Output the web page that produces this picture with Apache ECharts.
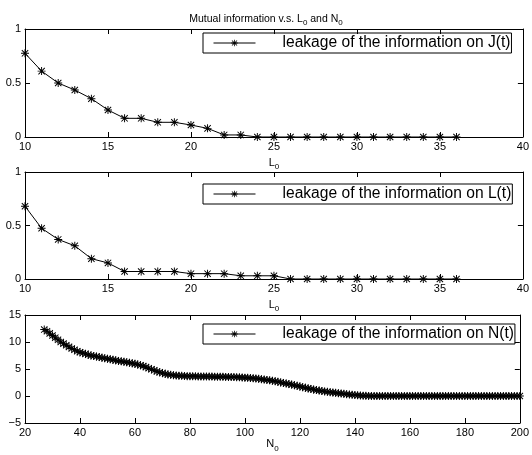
<!DOCTYPE html>
<html>
<head>
<meta charset="utf-8">
<script src="https://cdn.jsdelivr.net/npm/echarts@6/dist/echarts.min.js"></script>
<style>
html,body{margin:0;padding:0;background:#fff;}
#c{width:532px;height:455px;}
</style>
</head>
<body>
<div id="c"></div>
<script>
// ---- data ----
var L0 = [10,11,12,13,14,15,16,17,18,19,20,21,22,23,24,25,26,27,28,29,30,31,32,33,34,35,36];
var leakJ = [0.775,0.61,0.50,0.435,0.355,0.25,0.173,0.173,0.136,0.136,0.111,0.08,0.019,0.019,0,0,0,0,0,0,0,0,0,0,0,0,0];
var leakL = [0.68,0.474,0.37,0.31,0.19,0.15,0.07,0.07,0.07,0.07,0.05,0.05,0.05,0.03,0.03,0.03,0,0,0,0,0,0,0,0,0,0,0];
var N0start = 27, N0end = 200;
var leakN = [
 12.3,12.0,11.6,11.2,10.8,10.4,10.0,9.7,9.4,9.1,
 8.8,8.55,8.3,8.1,7.95,7.8,7.65,7.5,7.4,7.3,
 7.2,7.1,7.0,6.9,6.8,6.7,6.6,6.5,6.45,6.35,
 6.25,6.15,6.05,5.95,5.85,5.7,5.55,5.35,5.15,4.95,
 4.75,4.55,4.4,4.25,4.1,4.0,3.92,3.85,3.8,3.76,
 3.73,3.7,3.68,3.66,3.65,3.64,3.63,3.62,3.61,3.6,
 3.6,3.59,3.58,3.57,3.56,3.55,3.54,3.53,3.52,3.5,
 3.48,3.46,3.43,3.4,3.36,3.32,3.28,3.23,3.18,3.12,
 3.05,2.98,2.9,2.82,2.72,2.62,2.52,2.42,2.32,2.22,
 2.11,2.0,1.88,1.76,1.64,1.52,1.41,1.3,1.19,1.09,
 1.0,0.92,0.85,0.78,0.71,0.65,0.58,0.52,0.46,0.4,
 0.34,0.28,0.22,0.17,0.12,0.08,0.05,0.03,0.02,0.01,
 0,0,0,0,0,0,0,0,0,0,
 0,0,0,0,0,0,0,0,0,0,
 0,0,0,0,0,0,0,0,0,0,
 0,0,0,0,0,0,0,0,0,0,
 0,0,0,0,0,0,0,0,0,0,
 0,0,0,0
];
var yTicks12 = [0, 0.5, 1];
var yTicks3 = [-5, 0, 5, 10, 15];
var seriesNames = ['leakage of the information on J(t)','leakage of the information on L(t)','leakage of the information on N(t)'];
var titleText = 'Mutual information v.s.';

// ---- build ----
function pairs(xs, ys){ var out=[]; for(var i=0;i<ys.length;i++){ out.push([xs[i], ys[i]]); } return out; }
var N0 = []; for (var n=N0start; n<=N0end; n++) N0.push(n);

var FONT = 'Liberation Sans';
var star = 'path://M8.8 0L11.2 0L11.2 20L8.8 20Z M0 8.8L20 8.8L20 11.2L0 11.2Z M1.2 2.9L2.9 1.2L18.8 17.1L17.1 18.8Z M17.1 1.2L18.8 2.9L2.9 18.8L1.2 17.1Z';
var grids = [
  {left:25, right:9, top:29, height:108},
  {left:25, right:9, top:172, height:107},
  {left:25, right:9, top:315, height:108}
];
var xr = [[10,40,5],[10,40,5],[20,200,20]];
var yr = [[yTicks12[0], yTicks12[2], 0.5],[yTicks12[0], yTicks12[2], 0.5],[yTicks3[0], yTicks3[4], 5]];
var xNames = ['{a|L}{b|0}','{a|L}{b|0}','{a|N}{b|0}'];
var nameGaps = [18,18,13];
var xAxes=[], yAxes=[];
var rich = {a:{fontFamily:FONT,fontSize:11,color:'#000'}, b:{fontFamily:FONT,fontSize:8,color:'#000',padding:[8,0,0,0]}};
for (var g=0; g<3; g++){
  var line = {show:true, onZero:false, lineStyle:{color:'#000', width:1}};
  var tick = {show:true, inside:true, length:5, lineStyle:{color:'#000', width:1}};
  xAxes.push({type:'value', gridIndex:g, position:'bottom', min:xr[g][0], max:xr[g][1], interval:xr[g][2],
    axisLine:line, axisTick:tick, splitLine:{show:false},
    axisLabel:{color:'#000', fontFamily:FONT, fontSize:11, margin:4},
    name:xNames[g], nameLocation:'middle', nameGap:nameGaps[g], nameTextStyle:{rich:rich, verticalAlign:'top'}});
  xAxes.push({type:'value', gridIndex:g, position:'top', min:xr[g][0], max:xr[g][1], interval:xr[g][2],
    axisLine:line, axisTick:tick, splitLine:{show:false}, axisLabel:{show:false}});
  yAxes.push({type:'value', gridIndex:g, position:'left', min:yr[g][0], max:yr[g][1], interval:yr[g][2],
    axisLine:line, axisTick:tick, splitLine:{show:false},
    axisLabel:{color:'#000', fontFamily:FONT, fontSize:11, margin:4, formatter:function(v){ return String(v).replace('-', '\u2212'); }}});
  yAxes.push({type:'value', gridIndex:g, position:'right', min:yr[g][0], max:yr[g][1], interval:yr[g][2],
    axisLine:line, axisTick:tick, splitLine:{show:false}, axisLabel:{show:false}});
}
var datas = [pairs(L0, leakJ), pairs(L0, leakL), pairs(N0, leakN)];
var symSizes = [8, 8, 8];
var series = [];
for (var s=0; s<3; s++){
  series.push({name:seriesNames[s], type:'line', xAxisIndex:s*2, yAxisIndex:s*2, data:datas[s],
    symbol:star, symbolSize:symSizes[s], showAllSymbol:true, animation:false, clip:false,
    lineStyle:{color:'#000', width:1}, itemStyle:{color:'#000'}});
}
var legTops = [33, 184, 324];
var legends = [];
for (var k=0; k<3; k++){
  legends.push({data:[seriesNames[k]], left:203, top:legTops[k], orient:'horizontal',
    borderColor:'#000', borderWidth:1, padding:[2,1,2,10], itemWidth:42, itemHeight:8,
    lineStyle:{width:1, color:'#000'}, itemStyle:{color:'#000'},
    textStyle:{color:'#000', fontFamily:FONT, fontSize:15.6, padding:[0,0,0,22]}, selectedMode:false});
}
var chart = echarts.init(document.getElementById('c'), null, {renderer:'canvas'});
chart.setOption({
  animation:false,
  backgroundColor:'#fff',
  title:{text:'{t|'+titleText+' L}{s|0}{t| and N}{s|0}', left:'center', top:6,
    textStyle:{fontWeight:'normal', rich:{t:{fontFamily:FONT,fontSize:10.5,fontWeight:'normal',color:'#000'}, s:{fontFamily:FONT,fontSize:8,fontWeight:'normal',color:'#000',padding:[8,0,0,0]}}}},
  grid:grids, xAxis:xAxes, yAxis:yAxes, legend:legends, series:series
});
</script>
</body>
</html>
